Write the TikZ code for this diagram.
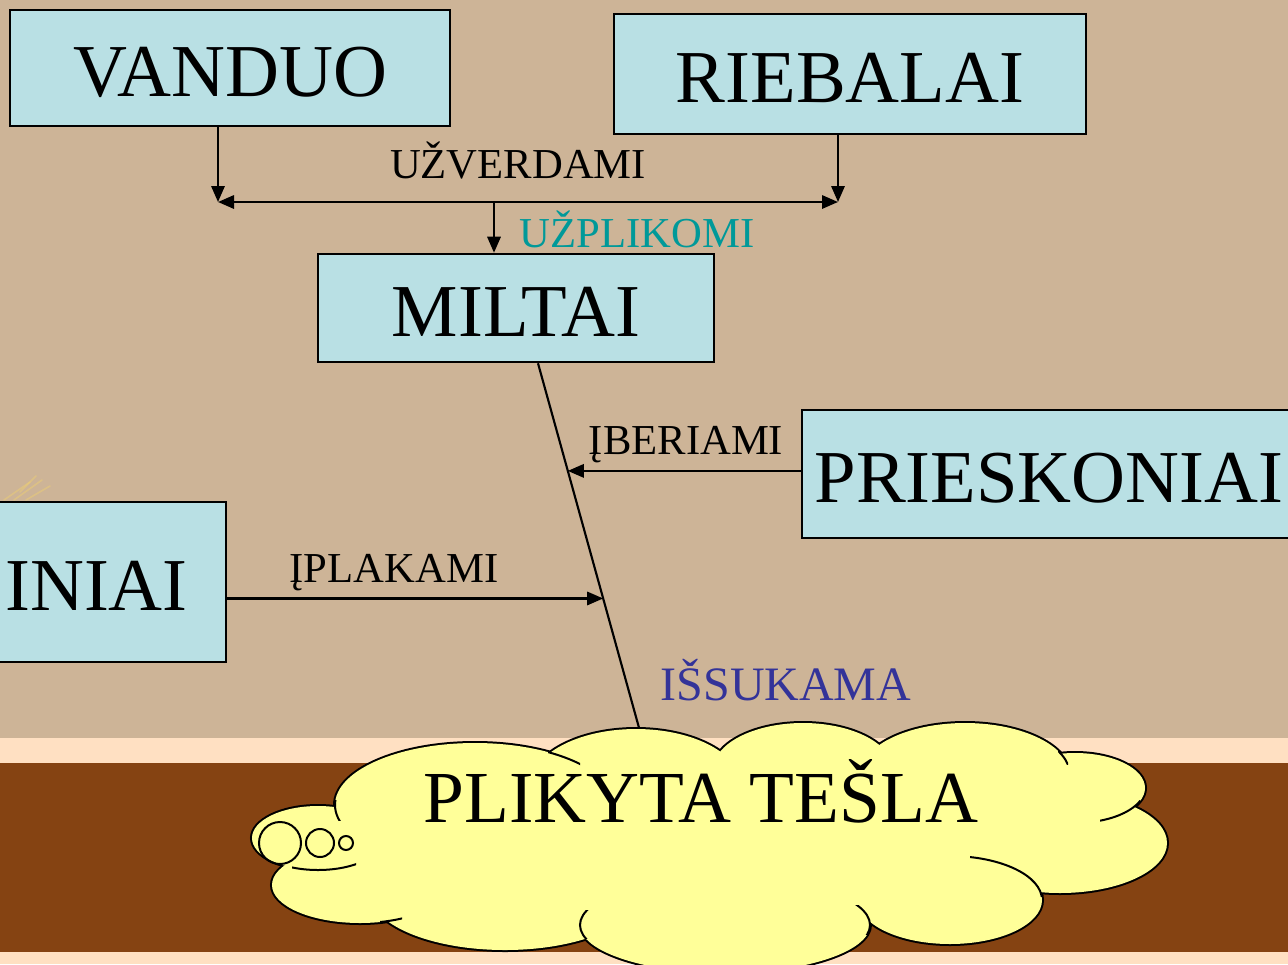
\documentclass[tikz,border=0pt]{standalone}
\usepackage{fontspec}
\setmainfont{Liberation Serif}
\usetikzlibrary{arrows.meta,calc}
\definecolor{bgtan}{HTML}{CDB497}
\definecolor{peach}{HTML}{FFE0C2}
\definecolor{floorbrown}{HTML}{854312}
\definecolor{boxfill}{HTML}{B9E0E4}
\definecolor{cloudfill}{HTML}{FFFF99}
\definecolor{labelteal}{HTML}{009999}
\definecolor{labelnavy}{HTML}{333399}
\definecolor{sparkle}{HTML}{F0D070}
\newcommand{\px}{0.75pt}
% lobe geometry of the thought cloud: centre x, centre y, x radius, y radius
\newcommand{\lobeA}{(475,805) ellipse [x radius=140, y radius=62]}
\newcommand{\lobeB}{(636,785) ellipse [x radius=105, y radius=56]}
\newcommand{\lobeC}{(803,770) ellipse [x radius=90, y radius=47]}
\newcommand{\lobeD}{(965,775) ellipse [x radius=105, y radius=52]}
\newcommand{\lobeE}{(1075,788) ellipse [x radius=70, y radius=35]}
\newcommand{\lobeF}{(1060,843) ellipse [x radius=107, y radius=50]}
\newcommand{\lobeG}{(950,900) ellipse [x radius=92, y radius=44]}
\newcommand{\lobeH}{(725,925) ellipse [x radius=145, y radius=48]}
\newcommand{\lobeI}{(505,893) ellipse [x radius=135, y radius=57]}
\newcommand{\lobeJ}{(360,885) ellipse [x radius=88, y radius=38]}
\newcommand{\lobeK}{(318,838) ellipse [x radius=66, y radius=32]}
\newcommand{\cloudlobes}[1]{%
  \path[#1] \lobeA; \path[#1] \lobeB; \path[#1] \lobeC; \path[#1] \lobeD;
  \path[#1] \lobeE; \path[#1] \lobeF; \path[#1] \lobeG; \path[#1] \lobeH;
  \path[#1] \lobeI; \path[#1] \lobeJ; \path[#1] \lobeK;
}
% piece of a lobe outline that shows inside the cloud
\newcommand{\innerarc}[3]{%
  \begin{scope}
    \clip #1 rectangle #2;
    \draw[line width=1.5pt] #3;
  \end{scope}
}
\begin{document}
\begin{tikzpicture}[x=0.75pt,y=-0.75pt,
  box/.style={draw=black, line width=1.9pt, fill=boxfill, inner sep=0pt,
    font=\fontsize{56}{62}\selectfont, text height=44.8pt, text depth=1.7pt},
  lbl/.style={font=\fontsize{32}{36}\selectfont, anchor=base, inner sep=0pt},
  conn/.style={line width=1.6pt},
  arrow/.style={conn, -{Triangle[length=12pt,width=10pt]}},
  dblarrow/.style={conn, {Triangle[length=12pt,width=10pt]}-{Triangle[length=12pt,width=10pt]}}
]
\useasboundingbox (0,0) rectangle (1288,964);
\clip (0,0) rectangle (1288,964);

% wall, skirting and floor
\fill[bgtan] (0,0) rectangle (1288,964);
\fill[peach] (0,738) rectangle (1288,964);
\fill[floorbrown] (0,763) rectangle (1288,952);

% faint sparkle at the left edge
\begin{scope}[opacity=0.45, draw=sparkle, line width=1.2pt, line cap=round]
  \draw (4,500) -- (30,482);
  \draw (14,500) -- (42,480);
  \draw (26,500) -- (50,486);
  \draw (20,492) -- (36,476);
\end{scope}

% ingredient boxes
\node[box, minimum width={440*\px}, minimum height={116*\px}] (vanduo) at (230,68) {VANDUO};
\node[box, minimum width={472*\px}, minimum height={120*\px}] (riebalai) at (850,74) {RIEBALAI};
\node[box, minimum width={396*\px}, minimum height={108*\px}] (miltai) at (516,308) {MILTAI};
\node[box, minimum width={494*\px}, minimum height={128*\px}] (prieskoniai) at (1049,474) {PRIESKONIAI};
\node[box, minimum width={487*\px}, minimum height={160*\px}] (kiausiniai) at (-17.5,582) {KIAUŠINIAI};

% boiling water and fat, poured onto the flour
\coordinate (jl) at (218,202);
\coordinate (jr) at (838,202);
\coordinate (jm) at (494,202);
\draw[arrow] (vanduo.south -| jl) -- (jl);
\draw[arrow] (riebalai.south -| jr) -- (jr);
\draw[dblarrow] (jl) -- (jr);
\draw[arrow] (jm) -- (jm |- miltai.north);
\node[lbl] (uzverdami) at (518,178) {UŽVERDAMI};
\node[lbl, text=labelteal] (uzplikomi) at (637,247) {UŽPLIKOMI};

% stem from the flour down to the dough
\coordinate (stemtop) at ($(miltai.south)+(22,0)$);
\coordinate (stembot) at (641,735);
\draw[conn] (stemtop) -- (stembot);
\coordinate (p1) at ($(stemtop)!0.2895!(stembot)$);
\coordinate (p2) at ($(stemtop)!0.6327!(stembot)$);
\draw[arrow] (prieskoniai.west |- p1) -- (p1);
\draw[arrow] (kiausiniai.east |- p2) -- (p2);
\node[lbl] (iberiami) at (686,454) {ĮBERIAMI};
\node[lbl] (iplakami) at (394,582) {ĮPLAKAMI};
\node[lbl, font=\fontsize{36}{40}\selectfont, text=labelnavy] (issukama) at (786,700) {IŠSUKAMA};

% thought cloud: doubled outline first, fill on top leaves the outer rim
\cloudlobes{draw=black, line width=3pt}
\cloudlobes{fill=cloudfill}
\fill[cloudfill] (700,850) ellipse [x radius=320, y radius=65];
% short inner arcs of the cloud
\innerarc{(328,800)}{(346,820)}{\lobeA}
\innerarc{(548,745)}{(580,765)}{\lobeA}
\innerarc{(1058,748)}{(1068,764)}{\lobeD}
\innerarc{(1100,800)}{(1140,830)}{\lobeE}
\innerarc{(970,845)}{(1045,896)}{\lobeG}
\innerarc{(852,905)}{(872,934)}{\lobeH}
\innerarc{(578,910)}{(592,938)}{\lobeH}
\innerarc{(380,910)}{(402,925)}{\lobeJ}
\innerarc{(292,855)}{(356,875)}{\lobeK}
% bubbles of the thought cloud
\draw[line width=1.5pt] (280,843) circle [radius=21];
\draw[line width=1.5pt] (320,843) circle [radius=14];
\draw[line width=1.5pt] (346,843) circle [radius=7];
\node[font=\fontsize{55}{60}\selectfont, anchor=base, inner sep=0pt] (tesla) at (701,822) {PLIKYTA TEŠLA};
\end{tikzpicture}
\end{document}
